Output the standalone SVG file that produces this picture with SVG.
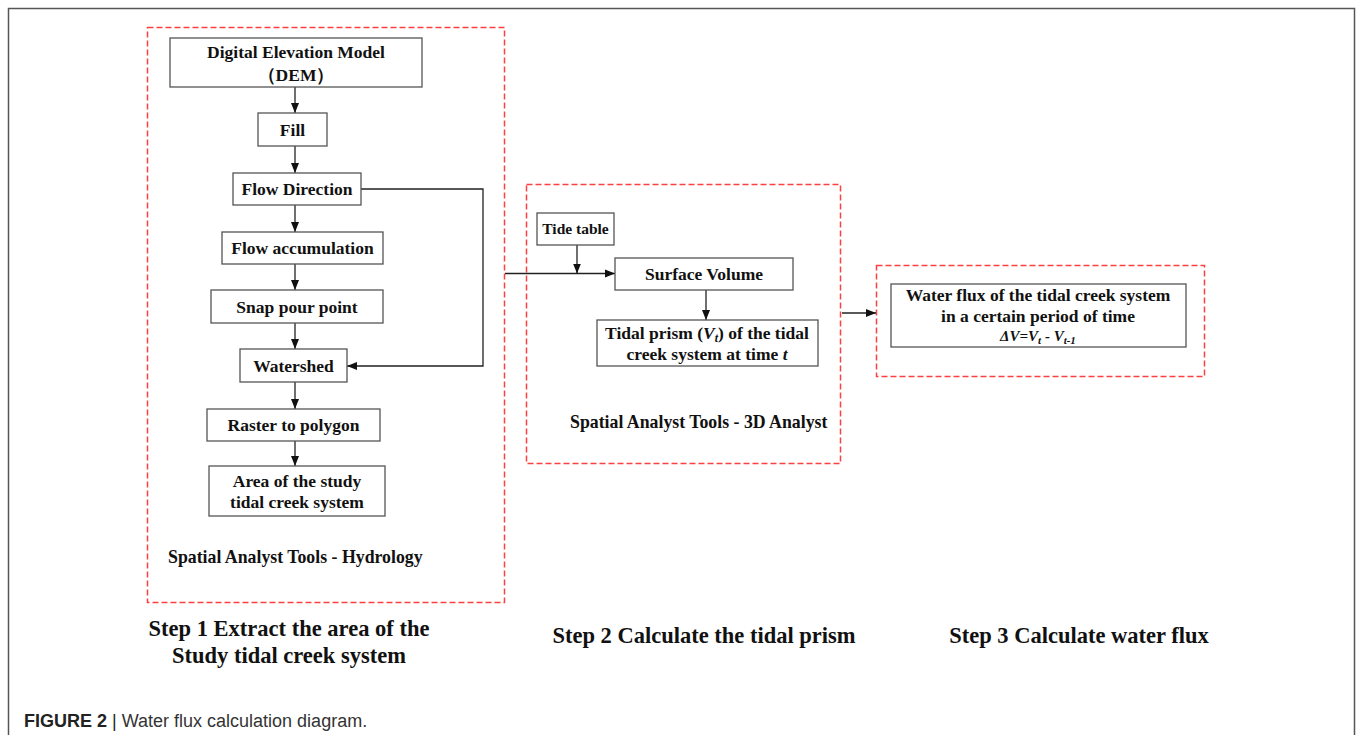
<svg xmlns="http://www.w3.org/2000/svg" width="1357" height="735" viewBox="0 0 1357 735">
<defs>
<marker id="ah" viewBox="0 0 10 10" refX="10" refY="5" markerWidth="10" markerHeight="10" markerUnits="userSpaceOnUse" orient="auto">
<path d="M0,1 L10,5 L0,9 z" fill="#111"/>
</marker>
<style>
.nd{fill:#fff;stroke:#555;stroke-width:1.3}
.t{font-family:"Liberation Serif","Times New Roman",serif;font-weight:bold;font-size:17.5px;fill:#111;text-anchor:middle}
.lab{font-family:"Liberation Serif","Times New Roman",serif;font-weight:bold;font-size:17.8px;fill:#111}
.step{font-family:"Liberation Serif","Times New Roman",serif;font-weight:bold;font-size:22.5px;fill:#111;text-anchor:middle}
.dash{fill:none;stroke:#ff4040;stroke-width:1.5;stroke-dasharray:6 3}
.ca{fill:none;stroke:#222;stroke-width:1.3;marker-end:url(#ah)}
</style>
</defs>
<rect x="0" y="0" width="1357" height="735" fill="#fff"/>
<path d="M8.5,740 V8.5 H1354.5 V740" fill="none" stroke="#555" stroke-width="1.5"/>

<g id="regions">
<rect class="dash" x="147.5" y="27.5" width="357" height="575"/>
<rect class="dash" x="526.5" y="184.5" width="314" height="279"/>
<rect class="dash" x="876.5" y="265.5" width="328" height="111"/>
</g>

<g id="connectors">
<line class="ca" x1="295" y1="87" x2="295" y2="113"/>
<line class="ca" x1="295" y1="146" x2="295" y2="173"/>
<line class="ca" x1="295" y1="205" x2="295" y2="232"/>
<line class="ca" x1="295" y1="264" x2="295" y2="290"/>
<line class="ca" x1="295" y1="323" x2="295" y2="349"/>
<line class="ca" x1="295" y1="382" x2="295" y2="409"/>
<line class="ca" x1="295" y1="441" x2="295" y2="466"/>
<polyline class="ca" points="361,189 483,189 483,366 347,366"/>
<line class="ca" x1="505" y1="273.5" x2="615" y2="273.5"/>
<line class="ca" x1="577" y1="245" x2="577" y2="273.5"/>
<line class="ca" x1="706" y1="290" x2="706" y2="320"/>
<line class="ca" x1="842" y1="313" x2="876" y2="313"/>
</g>

<g id="n-dem">
<rect class="nd" x="170" y="38" width="252" height="49"/>
<text class="t" x="296" y="58">Digital Elevation Model</text>
<text class="t" x="296" y="81">（DEM）</text>
</g>
<g id="n-fill">
<rect class="nd" x="258" y="113" width="69" height="33"/>
<text class="t" x="292.5" y="136">Fill</text>
</g>
<g id="n-flowdir">
<rect class="nd" x="233" y="173" width="128" height="32"/>
<text class="t" x="297" y="195">Flow Direction</text>
</g>
<g id="n-flowacc">
<rect class="nd" x="222" y="232" width="161" height="32"/>
<text class="t" x="302.5" y="254">Flow accumulation</text>
</g>
<g id="n-snap">
<rect class="nd" x="211" y="290" width="172" height="33"/>
<text class="t" x="297" y="313">Snap pour point</text>
</g>
<g id="n-watershed">
<rect class="nd" x="240" y="349" width="107" height="33"/>
<text class="t" x="293.5" y="372">Watershed</text>
</g>
<g id="n-raster">
<rect class="nd" x="207" y="409" width="173" height="32"/>
<text class="t" x="293.5" y="431">Raster to polygon</text>
</g>
<g id="n-area">
<rect class="nd" x="209" y="466" width="176" height="50"/>
<text class="t" x="297" y="487">Area of the study</text>
<text class="t" x="297" y="508">tidal creek system</text>
</g>
<g id="lab-hydro">
<text class="lab" x="168" y="563">Spatial Analyst Tools - Hydrology</text>
</g>

<g id="n-tide">
<rect class="nd" x="537" y="213" width="77" height="32"/>
<text class="t" x="575.5" y="234" style="font-size:15.5px">Tide table</text>
</g>
<g id="n-surface">
<rect class="nd" x="615" y="258" width="178" height="32"/>
<text class="t" x="704" y="280">Surface Volume</text>
</g>
<g id="n-prism">
<rect class="nd" x="597" y="320" width="221" height="46"/>
<text class="t" x="707" y="339">Tidal prism (<tspan font-style="italic">V</tspan><tspan font-style="italic" font-size="12" dy="3">t</tspan><tspan dy="-3">) of the tidal</tspan></text>
<text class="t" x="707" y="360">creek system at time <tspan font-style="italic">t</tspan></text>
</g>
<g id="lab-3d">
<text class="lab" x="570" y="428">Spatial Analyst Tools - 3D Analyst</text>
</g>

<g id="n-flux">
<rect class="nd" x="891" y="284" width="295" height="63"/>
<text class="t" x="1038" y="301">Water flux of the tidal creek system</text>
<text class="t" x="1038" y="322">in a certain period of time</text>
<text class="t" x="1038" y="341" font-style="italic" style="font-size:15px">ΔV=V<tspan font-size="11" dy="3">t</tspan><tspan dy="-3"> - V</tspan><tspan font-size="11" dy="3">t-1</tspan></text>
</g>

<g id="steps">
<text class="step" x="289" y="636">Step 1 Extract the area of the</text>
<text class="step" x="289" y="663">Study tidal creek system</text>
<text class="step" x="704" y="643">Step 2 Calculate the tidal prism</text>
<text class="step" x="1079" y="643">Step 3 Calculate water flux</text>
</g>

<g id="caption">
<text x="24" y="727" style="font-family:'Liberation Sans',Arial,sans-serif;font-size:18px;fill:#333"><tspan font-weight="bold" fill="#222">FIGURE 2</tspan><tspan fill="#222"> | </tspan>Water flux calculation diagram.</text>
</g>
</svg>
